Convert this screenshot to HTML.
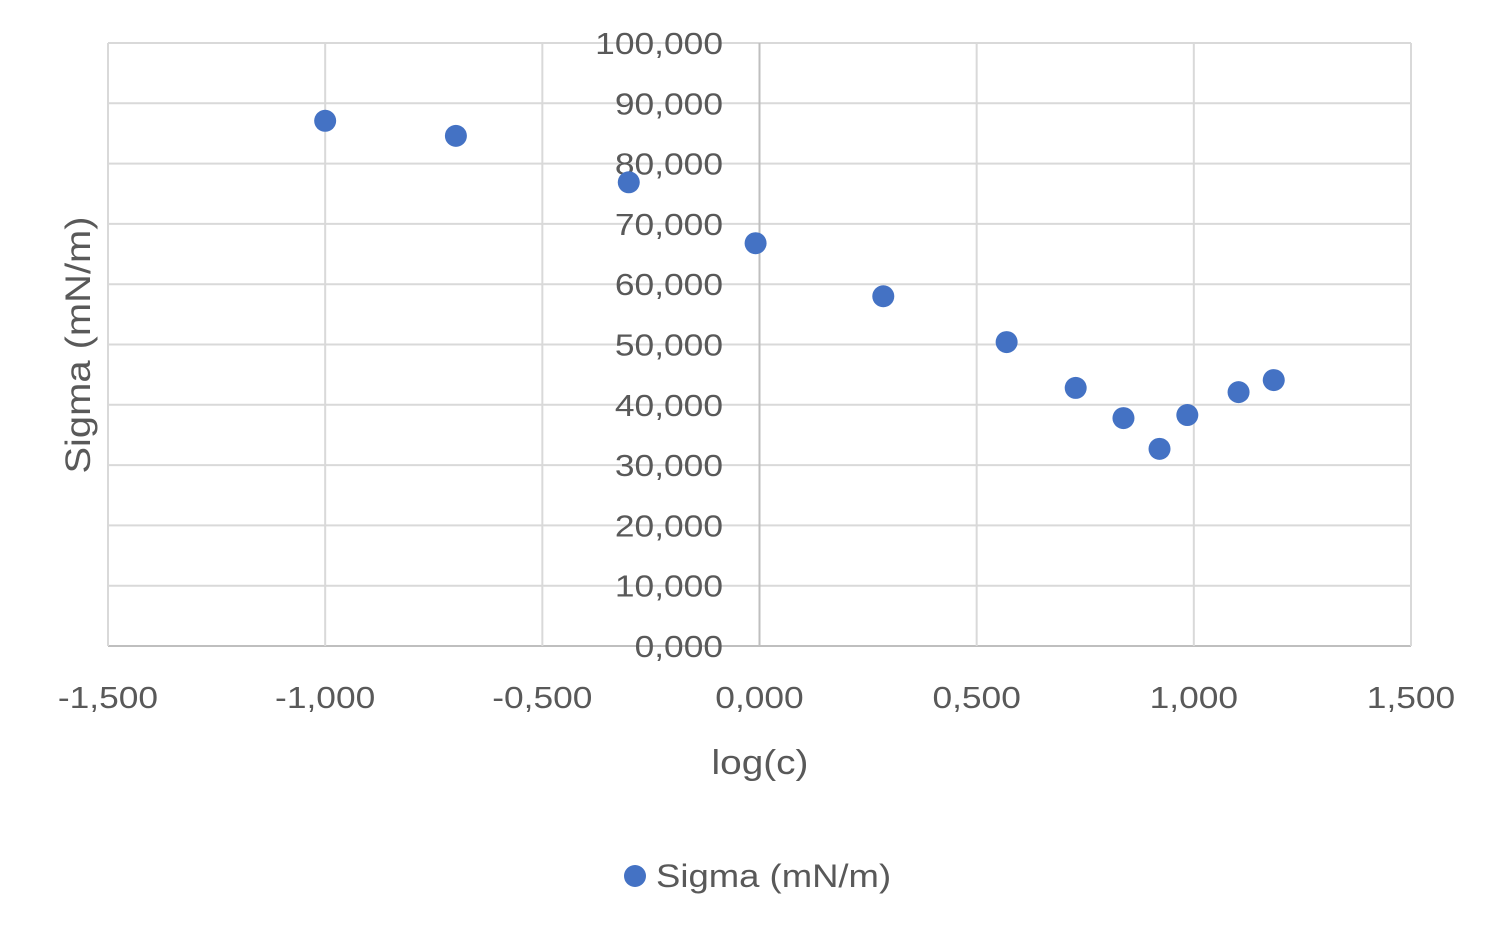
<!DOCTYPE html>
<html><head><meta charset="utf-8">
<style>
html,body{margin:0;padding:0;background:#fff;}
svg{display:block;font-family:"Liberation Sans",sans-serif;}
</style></head>
<body>
<svg id="chart" width="1496" height="938" viewBox="0 0 1496 938">
<g id="grid"></g>
<g id="ylabels"></g>
<g id="xlabels"></g>
<g id="points"></g>
<text class="wide" x="760" y="774" text-anchor="middle" font-size="34" fill="#595959">log(c)</text>
<text class="wide" transform="translate(90,345) rotate(-90)" text-anchor="middle" font-size="35" fill="#595959">Sigma (mN/m)</text>
<g>
<circle cx="635" cy="876" r="11" fill="#4472C4"></circle>
<text class="wide" x="656" y="887" font-size="32" fill="#595959">Sigma (mN/m)</text>
</g>
</svg>
<script>
const xValues = [-1.0, -0.699, -0.301, -0.009, 0.285, 0.569, 0.728, 0.838, 0.921, 0.985, 1.103, 1.184];
const yValues = [87.1, 84.6, 76.9, 66.8, 58.0, 50.4, 42.8, 37.8, 32.7, 38.3, 42.1, 44.1];
const xTicks = [-1.5, -1.0, -0.5, 0, 0.5, 1.0, 1.5];
const xTickLabels = ["-1,500","-1,000","-0,500","0,000","0,500","1,000","1,500"];
const yTicks = [0,10,20,30,40,50,60,70,80,90,100];
const yTickLabels = ["0,000","10,000","20,000","30,000","40,000","50,000","60,000","70,000","80,000","90,000","100,000"];

const NS = "http://www.w3.org/2000/svg";
const L = 108, R = 1411, T = 43, B = 646;
function sx(v){ return L + (v + 1.5) / 3 * (R - L); }
function sy(v){ return B - v / 100 * (B - T); }
function mk(tag, attrs, parent){ const e = document.createElementNS(NS, tag); for (const k in attrs) e.setAttribute(k, attrs[k]); parent.appendChild(e); return e; }

const grid = document.getElementById('grid');
yTicks.forEach(v => {
  const ln = mk('line', {x1:L, x2:R, y1:sy(v), y2:sy(v), stroke: v===0 ? '#bfbfbf' : '#d9d9d9', 'stroke-width':2}, grid);
  
  
});
xTicks.forEach(v => {
  const ln = mk('line', {x1:sx(v), x2:sx(v), y1:T, y2:B, stroke: v===0 ? '#bfbfbf' : '#d9d9d9', 'stroke-width':2}, grid);
  
  
});

const yl = document.getElementById('ylabels');
yTicks.forEach((v, i) => {
  const t = mk('text', {x:723, y:sy(v)+11, 'text-anchor':'end', 'font-size':31, fill:'#595959', class:'wide'}, yl);
  t.textContent = yTickLabels[i];
  
  
});
const xl = document.getElementById('xlabels');
xTicks.forEach((v, i) => {
  const t = mk('text', {x:sx(v), y:708, 'text-anchor':'middle', 'font-size':31, fill:'#595959', class:'wide'}, xl);
  t.textContent = xTickLabels[i];
  
  
});

document.querySelectorAll('text.wide').forEach(t => {
  const w = t.getComputedTextLength();
  t.setAttribute('textLength', (w * 1.14).toFixed(1));
  t.setAttribute('lengthAdjust', 'spacingAndGlyphs');
});

const pts = document.getElementById('points');
xValues.forEach((x, i) => {
  const c = mk('circle', {cx:sx(x), cy:sy(yValues[i]), r:11, fill:'#4472C4'}, pts);
  
  
});
</script>
</body></html>
